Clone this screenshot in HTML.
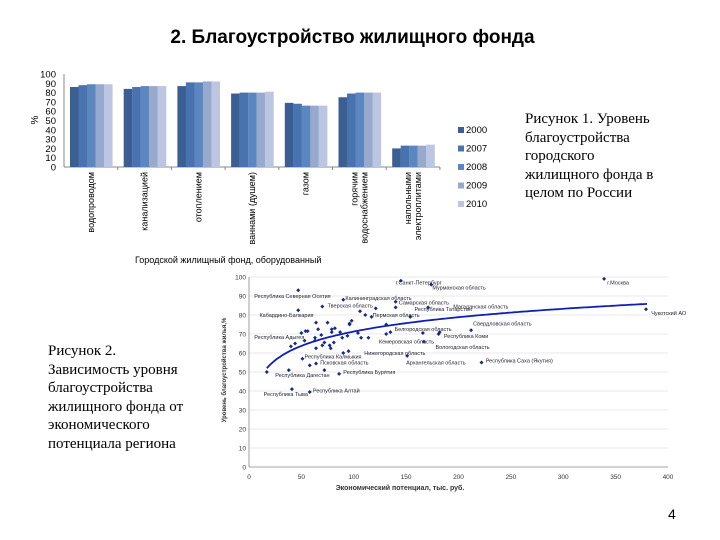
<!DOCTYPE html>
<html><head><meta charset="utf-8"><style>
body{margin:0;width:720px;height:540px;background:#fff;overflow:hidden;position:relative;font-family:"Liberation Sans",sans-serif}
.t{position:absolute}
.serif{font-family:"Liberation Serif",serif;font-size:15px;line-height:18.5px;color:#000}
</style></head><body>
<div class="t" style="left:0;width:705px;top:27px;text-align:center;font-size:19px;font-weight:bold">2. Благоустройство жилищного фонда</div>
<div class="t serif" style="left:525px;top:110px;width:138px;text-align:left">Рисунок 1. Уровень благоустройства городского жилищного фонда в целом по России</div>
<div class="t serif" style="left:48px;top:342px;width:160px">Рисунок 2.<br>Зависимость уровня благоустройства жилищного фонда от экономического потенциала региона</div>
<div class="t" style="left:668px;top:506px;font-size:14px">4</div>
<svg id="bar" width="720" height="270" style="position:absolute;left:0;top:0"></svg>
<svg id="sc" width="720" height="540" style="position:absolute;left:0;top:0"></svg>
<script>
const categories=["водопроводом","канализацией","отоплением","ваннами (душем)","газом","горячим водоснабжением","напольными электроплитами"];
const years=["2000","2007","2008","2009","2010"];
const v2000=[86,84,87,79,69,75,20];
const v2007=[88,86,91,80,68,79,23];
const v2008=[89,87,91,80,66,80,23];
const v2009=[89,87,92,80,66,80,23];
const v2010=[89,87,92,81,66,80,24];
const yTicks=[0,10,20,30,40,50,60,70,80,90,100];

const sx=[145,174,339,379,47,90,140,47,70,121,140,171,154,64,75,106,111,117,96,98,131,212,182,181,166,167,131,135,104,107,114,151,95,90,222,50,54,56,44,40,53,63,69,66,63,70,64,79,79,82,77,78,81,72,87,89,94,51,64,58,38,72,86,17,41,58,96];
const sy=[98,96,99,83,93,88,87,82.5,84.5,83.5,84,84,79,76,76,82,80,79,75,77,75,72,71,70,70.5,66,70,71,70.5,68,68,58.5,61,60,55,70.5,71.5,71.5,65,63.5,66.5,68,69.5,72.5,66.5,64,62.5,71,72.5,73,64,62.5,65.5,65.5,71,68,69,57,54.5,53.5,51,51,49,50,41,39.5,75.5];
const scYTicks=[0,10,20,30,40,50,60,70,80,90,100];
const scXTicks=[0,50,100,150,200,250,300,350,400];
const labels=[["г.Санкт-Петербург",140,96],["Мурманская область",175,93.5],["г.Москва",342,96],["Чукотский АО",384,80],["Республика Северная Осетия",5,89],["Калининградская область",92,88],["Самарская область",143,85.5],["Тверская область",75,84],["Магаданская область",195,83.5],["Республика Татарстан",158,82],["Кабардино-Балкария",10,79],["Пермская область",118,79],["Свердловская область",214,74.5],["Белгородская область",139,71.5],["Республика Адыгея",5,67.5],["Республика Коми",186,68],["Кемеровская область",124,65],["Вологодская область",178,62],["Нижегородская область",110,59],["Архангельская область",150,54],["Республика Саха (Якутия)",226,55],["Республика Калмыкия",53,57],["Псковская область",68,54],["Республика Дагестан",25,47.5],["Республика Бурятия",90,49],["Республика Алтай",61,39.3],["Республика Тыва",14,37.5]];

const NS="http://www.w3.org/2000/svg";
function mk(svg,tag,attrs){const e=document.createElementNS(NS,tag);for(const k in attrs)e.setAttribute(k,attrs[k]);svg.appendChild(e);return e;}

const bar=document.getElementById('bar');
const bx0=64,bw=53.7,by0=167,by100=74;
const byf=v=>by0-(by0-by100)*v/100;
const colors=["#3b5f93","#4873ae","#5b86bf","#97a9cc","#bcc6e2"];
const series=[v2000,v2007,v2008,v2009,v2010];
yTicks.forEach(t=>{const e=mk(bar,'text',{x:56,y:byf(t)+3.5,'text-anchor':'end','font-size':9.5,fill:'#000'});e.textContent=t;
});
const ya=mk(bar,'line',{x1:bx0,y1:by100,x2:bx0,y2:by0,stroke:'#888'});

const xa=mk(bar,'line',{x1:bx0,y1:by0,x2:bx0+7*bw,y2:by0,stroke:'#888'});

const yt=mk(bar,'text',{x:0,y:0,'font-size':10,transform:'translate(38,120) rotate(-90)','text-anchor':'middle'});yt.textContent='%';

categories.forEach((c,i)=>{
 series.forEach((s,j)=>{const x=bx0+i*bw+6+j*8.5;const r=mk(bar,'rect',{x:x,y:byf(s[i]),width:8.6,height:by0-byf(s[i]),fill:colors[j]});
 });
 const cx=bx0+i*bw+bw/2;
 const parts=c==="горячим водоснабжением"?["горячим","водоснабжением"]:c==="напольными электроплитами"?["напольными","электроплитами"]:[c];
 parts.forEach((p,k)=>{const tx=cx+3-(parts.length-1)*5+k*10;const e=mk(bar,'text',{x:0,y:0,'font-size':9,'text-anchor':'end',transform:`translate(${tx},172) rotate(-90)`});e.textContent=p;
 });
 mk(bar,'line',{x1:bx0+(i+1)*bw,y1:by0,x2:bx0+(i+1)*bw,y2:by0+3,stroke:'#888'});
});
years.forEach((y,j)=>{const g=mk(bar,'g',{});
 const ly=133+j*18.5;const r=document.createElementNS(NS,'rect');r.setAttribute('x',458);r.setAttribute('y',ly-6);r.setAttribute('width',6);r.setAttribute('height',6);r.setAttribute('fill',colors[j]);g.appendChild(r);
 const t=document.createElementNS(NS,'text');t.setAttribute('x',466);t.setAttribute('y',ly);t.setAttribute('font-size',9.5);t.textContent=y;g.appendChild(t);});
const xt=mk(bar,'text',{x:135,y:263,'font-size':9});xt.textContent='Городской жилищный фонд, оборудованный';


const sc=document.getElementById('sc');
const X0=249,X1=668,Y0=467,Y100=277;
const fx=v=>X0+(X1-X0)*v/400, fy=v=>Y0-(Y0-Y100)*v/100;
scYTicks.forEach(t=>{if(t>0){const l=mk(sc,'line',{x1:X0,y1:fy(t),x2:X1,y2:fy(t),stroke:'#e0e0e0','stroke-width':0.8});}
 const e=mk(sc,'text',{x:X0-3,y:fy(t)+2.5,'text-anchor':'end','font-size':6.5,fill:'#333'});e.textContent=t;
 });
scXTicks.forEach(t=>{const e=mk(sc,'text',{x:fx(t),y:Y0+12,'text-anchor':'middle','font-size':6.5,fill:'#333'});e.textContent=t;
 });
const sa=mk(sc,'line',{x1:X0,y1:Y100,x2:X0,y2:Y0,stroke:'#888','stroke-width':0.8});
const sb=mk(sc,'line',{x1:X0,y1:Y0,x2:X1,y2:Y0,stroke:'#888','stroke-width':0.8});
labels.forEach(l=>{const e=mk(sc,'text',{x:fx(l[1]),y:fy(l[2]),'font-size':5.5,fill:'#223'});e.textContent=l[0];
 });
sx.forEach((x,i)=>{const p=mk(sc,'path',{d:`M${fx(x)-2},${fy(sy[i])}L${fx(x)},${fy(sy[i])-2}L${fx(x)+2},${fy(sy[i])}L${fx(x)},${fy(sy[i])+2}Z`,fill:'#1a2a80'});
 });
let d='';for(let x=17;x<=380;x+=3){d+=(d?'L':'M')+fx(x).toFixed(1)+','+fy(21.1+10.9*Math.log(x)).toFixed(1);}
const tr=mk(sc,'path',{d:d,fill:'none',stroke:'#1020b0','stroke-width':1.8});
const sxt=mk(sc,'text',{x:400,y:490,'text-anchor':'middle','font-size':7,'font-weight':'bold',fill:'#333'});sxt.textContent='Экономический потенциал, тыс. руб.';

const syt=mk(sc,'text',{x:0,y:0,'text-anchor':'middle','font-size':6,'font-weight':'bold',fill:'#333',transform:'translate(226,370) rotate(-90)'});syt.textContent='Уровень благоустройства жилья,%';

</script>
</body></html>
